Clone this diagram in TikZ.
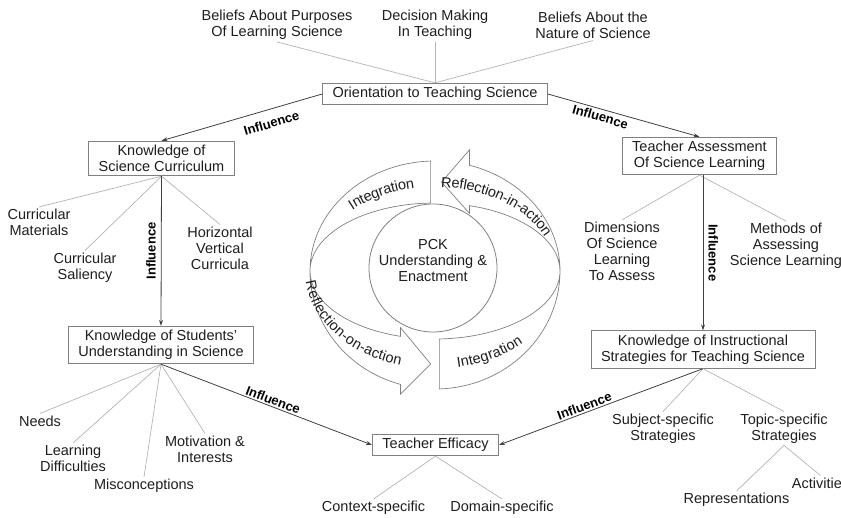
\documentclass[tikz,border=0pt]{standalone}
\usepackage{fontspec}
\setmainfont{Liberation Sans}
\usetikzlibrary{arrows.meta,positioning,decorations.text}

\definecolor{boxgray}{HTML}{808080}
\definecolor{leafgray}{HTML}{B4B4B4}
\definecolor{arrowgray}{HTML}{404040}
\definecolor{textdark}{HTML}{1E1E1E}

\newcommand\diagfont{\fontsize{14.5}{16}\selectfont}
\newcommand\inflfont{\bfseries\fontsize{13}{14}\selectfont}

\tikzset{
  box/.style={draw=boxgray, line width=0.8pt, fill=white, align=center, inner xsep=10pt, inner ysep=4pt},
  item/.style={align=center, inner sep=2pt},
  leaf/.style={leafgray, line width=0.7pt},
  infl/.style={arrowgray, line width=0.8pt},
  lbl/.style={font=\inflfont, text=black, inner sep=1.5pt},
  vlbl/.style={lbl, inner ysep=5pt, midway, anchor=south},
  band/.style={draw=boxgray, line width=0.7pt, fill=white},
  bandtext/.style={decorate, decoration={text along path, text align=center, raise=-5pt, text color=textdark}}
}

\begin{document}
\begin{tikzpicture}[x=1pt, y=1pt, font=\diagfont, text=textdark, >={Stealth[length=6pt,width=4pt]}]
\useasboundingbox (0,0) rectangle (841,518);

\node[box] (orient) at (435,424) {Orientation to Teaching Science};
\node[box] (curr) at (161.5,359.5) {Knowledge of\\Science Curriculum};
\node[box] (assess) at (699.5,362) {Teacher Assessment\\Of Science Learning};
\node[box] (stud) at (161,173) {Knowledge of Students'\\Understanding in Science};
\node[box] (instr) at (703,168.5) {Knowledge of Instructional\\Strategies for Teaching Science};
\node[box] (eff) at (435.5,73) {Teacher Efficacy};

\node[item] (purp) at (277,493) {Beliefs About Purposes\\Of Learning Science};
\node[item] (dec) at (435,493) {Decision Making\\In Teaching};
\node[item] (nat) at (593,493) {Beliefs About the\\Nature of Science};
\node[item] (mat) at (39,295.5) {Curricular\\Materials};
\node[item] (sal) at (85,250.5) {Curricular\\Saliency};
\node[item] (hv) at (220,270) {Horizontal\\Vertical\\Curricula};
\node[item] (dim) at (622,266.5) {Dimensions\\Of Science\\Learning\\To Assess};
\node[item] (meth) at (786,272) {Methods of\\Assessing\\Science Learning};
\node[item] (needs) at (40,97) {Needs};
\node[item] (diff) at (73,59.5) {Learning\\Difficulties};
\node[item] (misc) at (144,32) {Misconceptions};
\node[item] (mot) at (205,69) {Motivation \&\\Interests};
\node[item] (ctx) at (373.5,10) {Context-specific};
\node[item] (dom) at (502,10) {Domain-specific};
\node[item] (subj) at (663,89.5) {Subject-specific\\Strategies};
\node[item] (topic) at (784,89.5) {Topic-specific\\Strategies};
\node[item] (repr) at (736.5,18) {Representations};
\node[item] (act) at (820.5,35) {Activities};

\foreach \c in {purp,dec,nat} \draw[leaf] (\c.south) -- (orient.north);
\foreach \c in {mat,sal,hv} \draw[leaf] (\c.north) -- (curr.south);
\foreach \c in {dim,meth} \draw[leaf] (\c.north) -- (assess.south);
\foreach \c in {needs,diff,misc,mot} \draw[leaf] (\c.north) -- (stud.south);
\foreach \c in {ctx,dom} \draw[leaf] (\c.north) -- (eff.south);
\foreach \c in {subj,topic} \draw[leaf] (\c.north) -- (instr.south);
\foreach \c in {repr,act} \draw[leaf] (\c.north) -- (topic.south);

\draw[infl, <-] (curr.north) -- node[lbl, pos=0.66, below=7pt, sloped] {Influence} (orient.west);
\draw[infl, ->] (orient.east) -- node[lbl, pos=0.36, below=1pt, sloped] {Influence} (assess.north);
\draw[infl, ->] (curr.south) -- node[vlbl, rotate=90] {Influence} (stud.north);
\draw[infl, ->] (instr.north |- assess.south) -- node[vlbl, rotate=-90] {Influence} (instr.north);
\draw[infl, ->] (stud.south) -- node[lbl, pos=0.52, above, sloped] {Influence} (eff.west);
\draw[infl, <-] (eff.east) -- node[lbl, pos=0.43, above, sloped] {Influence} (instr.south);

\begin{scope}[shift={(435,247)}]
\draw[band] (180:125 and 110) arc[start angle=180, end angle=92, x radius=125, y radius=110]
  -- (92:125 and 68) arc[start angle=92, end angle=180, x radius=125, y radius=68] -- cycle;
\draw[band] (0:125 and 110) arc[start angle=0, end angle=74, x radius=125, y radius=110]
  -- (74:125 and 126) -- (87:125 and 89) -- (74:125 and 60) -- (74:125 and 68)
  arc[start angle=74, end angle=0, x radius=125, y radius=68] -- cycle;
\draw[band] (180:125 and 118) arc[start angle=180, end angle=254, x radius=125, y radius=118]
  -- (254:125 and 128) -- (268:125 and 93) -- (254:125 and 59) -- (254:125 and 68)
  arc[start angle=254, end angle=180, x radius=125, y radius=68] -- cycle;
\draw[band] (360:125 and 118) arc[start angle=360, end angle=272, x radius=125, y radius=118]
  -- (272:125 and 68) arc[start angle=272, end angle=360, x radius=125, y radius=68] -- cycle;

\path[bandtext, decoration={text={|\diagfont|Integration}}]
  (142:125 and 89) arc[start angle=142, end angle=92, x radius=125, y radius=89];
\path[bandtext, decoration={text={|\diagfont|Reflection-in-action}}]
  (92:125 and 89) arc[start angle=92, end angle=18, x radius=125, y radius=89];
\path[bandtext, decoration={text={|\diagfont|Reflection-on-action}}]
  (184:125 and 93) arc[start angle=184, end angle=256, x radius=125, y radius=93];
\path[bandtext, decoration={text={|\diagfont|Integration}}]
  (274:125 and 93) arc[start angle=274, end angle=320, x radius=125, y radius=93];
\end{scope}

\node[circle, draw=boxgray, line width=0.8pt, minimum size=128pt, inner sep=0pt] (pck) at (433,250) {};
\node[align=center] (pcktext) at ([yshift=7pt]pck.center) {PCK\\Understanding \&\\Enactment};
\end{tikzpicture}
\end{document}
